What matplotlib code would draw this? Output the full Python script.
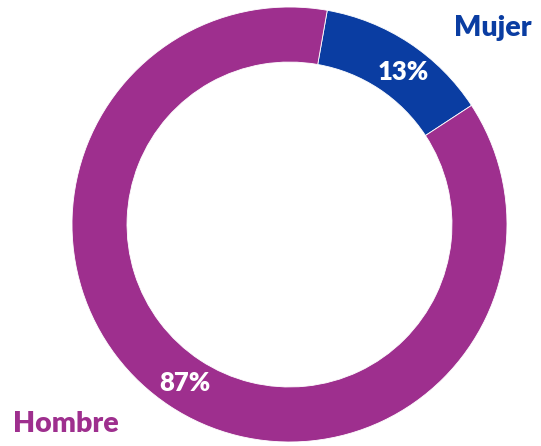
import matplotlib
matplotlib.use("Agg")
import matplotlib.pyplot as plt

categories = ["Mujer", "Hombre"]
values = [13, 87]
colors = ["#0A3DA2", "#9E2F8E"]

W, H = 541, 446
fig = plt.figure(figsize=(W / 100, H / 100), dpi=100)
cx, cy, R = 289.5, H - 224.5, 217.5
ax = fig.add_axes([(cx - R) / W, (cy - R) / H, 2 * R / W, 2 * R / H])
ax.set_xlim(-1, 1)
ax.set_ylim(-1, 1)
ax.set_aspect("equal")
ax.axis("off")

wedges, texts, autotexts = ax.pie(
    values, colors=colors, radius=1, startangle=80, counterclock=False,
    wedgeprops=dict(width=0.253, linewidth=0.6, edgecolor="white"),
    autopct=lambda p: f"{p:.0f}%", pctdistance=0.874,
    textprops=dict(color="white", fontsize=18.5, fontweight="heavy", family="Lato"),
)
ax.set_xlim(-1, 1)
ax.set_ylim(-1, 1)
# nudge the small-slice label slightly clockwise like the reference
autotexts[0].set_position((0.874 * 0.599, 0.874 * 0.80))

fig.text(492.5 / W, 1 - 36 / H, categories[0], color=colors[0], fontsize=20.5,
         fontweight="heavy", family="Lato", ha="center", va="baseline")
fig.text(65.5 / W, 1 - 432 / H, categories[1], color=colors[1], fontsize=20.5,
         fontweight="heavy", family="Lato", ha="center", va="baseline")

fig.savefig("out.png", dpi=100)
